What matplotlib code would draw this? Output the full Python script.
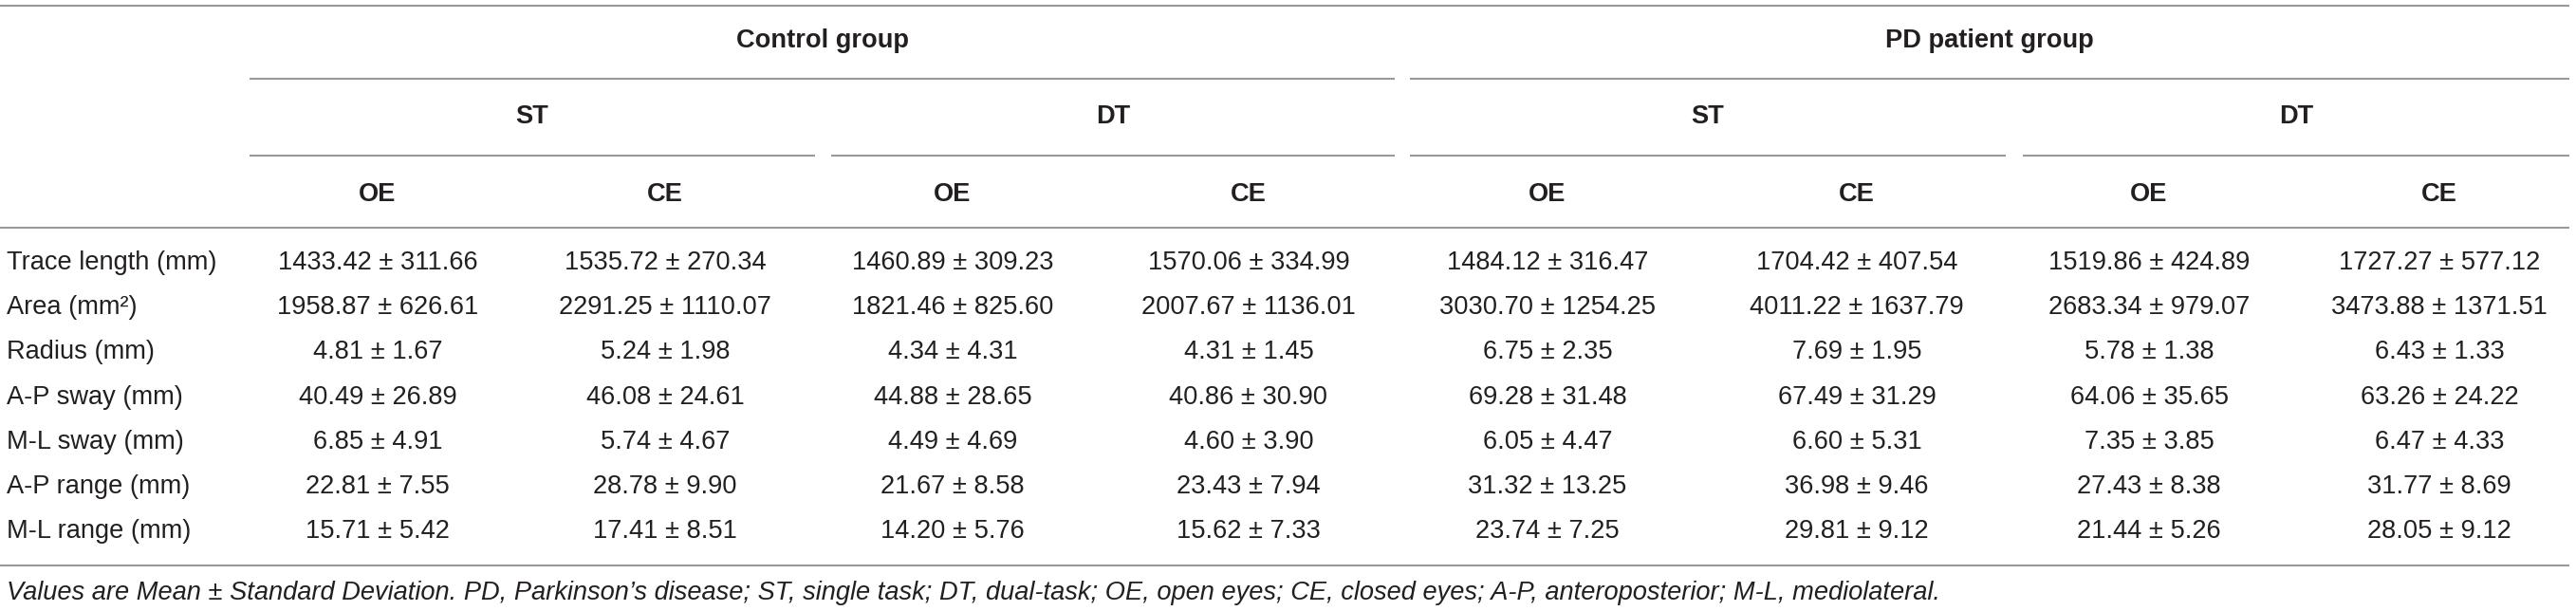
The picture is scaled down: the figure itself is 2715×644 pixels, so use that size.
import matplotlib
matplotlib.use("Agg")
import matplotlib.pyplot as plt

# ---------------- data ----------------
groups = ["Control group", "PD patient group"]
tasks = ["ST", "DT", "ST", "DT"]
conditions = ["OE", "CE", "OE", "CE", "OE", "CE", "OE", "CE"]
row_labels = ["Trace length (mm)", "Area (mm\u00b2)", "Radius (mm)", "A-P sway (mm)",
              "M-L sway (mm)", "A-P range (mm)", "M-L range (mm)"]
means = [
    [1433.42, 1535.72, 1460.89, 1570.06, 1484.12, 1704.42, 1519.86, 1727.27],
    [1958.87, 2291.25, 1821.46, 2007.67, 3030.70, 4011.22, 2683.34, 3473.88],
    [4.81, 5.24, 4.34, 4.31, 6.75, 7.69, 5.78, 6.43],
    [40.49, 46.08, 44.88, 40.86, 69.28, 67.49, 64.06, 63.26],
    [6.85, 5.74, 4.49, 4.60, 6.05, 6.60, 7.35, 6.47],
    [22.81, 28.78, 21.67, 23.43, 31.32, 36.98, 27.43, 31.77],
    [15.71, 17.41, 14.20, 15.62, 23.74, 29.81, 21.44, 28.05],
]
sds = [
    [311.66, 270.34, 309.23, 334.99, 316.47, 407.54, 424.89, 577.12],
    [626.61, 1110.07, 825.60, 1136.01, 1254.25, 1637.79, 979.07, 1371.51],
    [1.67, 1.98, 4.31, 1.45, 2.35, 1.95, 1.38, 1.33],
    [26.89, 24.61, 28.65, 30.90, 31.48, 31.29, 35.65, 24.22],
    [4.91, 4.67, 4.69, 3.90, 4.47, 5.31, 3.85, 4.33],
    [7.55, 9.90, 8.58, 7.94, 13.25, 9.46, 8.38, 8.69],
    [5.42, 8.51, 5.76, 7.33, 7.25, 9.12, 5.26, 9.12],
]
footnote = ("Values are Mean \u00b1 Standard Deviation. PD, Parkinson\u2019s disease; ST, single task; "
            "DT, dual-task; OE, open eyes; CE, closed eyes; A-P, anteroposterior; M-L, mediolateral.")

# ---------------- layout (pixels) ----------------
W, H = 2715, 644
col_x = [398, 701, 1004, 1316, 1631, 1957, 2265, 2571]
task_spans = [(263, 859), (876, 1470), (1486, 2114), (2132, 2708)]
group_spans = [(263, 1470), (1486, 2708)]
y_group, y_task, y_cond = 43, 123, 205
row_y0, row_dy = 277, 47.2
line_color = "#999999"
text_color = "#231f20"
fs = 19.6
family = ["Liberation Sans", "DejaVu Sans"]

fig = plt.figure(figsize=(W / 100, H / 100), dpi=100)
ax = fig.add_axes([0, 0, 1, 1])
ax.set_xlim(0, W)
ax.set_ylim(H, 0)
ax.axis("off")

lw = 1.5
# rules
ax.hlines(6, 0, 2708, color=line_color, lw=lw)
for a, b in group_spans:
    ax.hlines(83, a, b, color=line_color, lw=lw)
for a, b in task_spans:
    ax.hlines(164, a, b, color=line_color, lw=lw)
ax.hlines(240, 0, 2708, color=line_color, lw=lw)
ax.hlines(596, 0, 2708, color=line_color, lw=lw)

# headers
for g, (a, b) in zip(groups, group_spans):
    ax.text((a + b) / 2, y_group, g, ha="center", va="center", fontsize=fs,
            fontweight="bold", family=family, color=text_color)
for t, (a, b) in zip(tasks, task_spans):
    ax.text((a + b) / 2, y_task, t, ha="center", va="center", fontsize=fs,
            fontweight="bold", family=family, color=text_color)
for c, x in zip(conditions, col_x):
    ax.text(x, y_cond, c, ha="center", va="center", fontsize=fs,
            fontweight="bold", family=family, color=text_color)

# body
for i, lab in enumerate(row_labels):
    y = row_y0 + i * row_dy
    ax.text(7, y, lab, ha="left", va="center", fontsize=fs, family=family, color=text_color)
    for j, x in enumerate(col_x):
        ax.text(x, y, f"{means[i][j]:.2f} \u00b1 {sds[i][j]:.2f}", ha="center", va="center",
                fontsize=fs, family=family, color=text_color)

ax.text(7, 625, footnote, ha="left", va="center", fontsize=fs, style="italic",
        family=family, color=text_color)

fig.savefig("out.png", dpi=100, facecolor="white")
